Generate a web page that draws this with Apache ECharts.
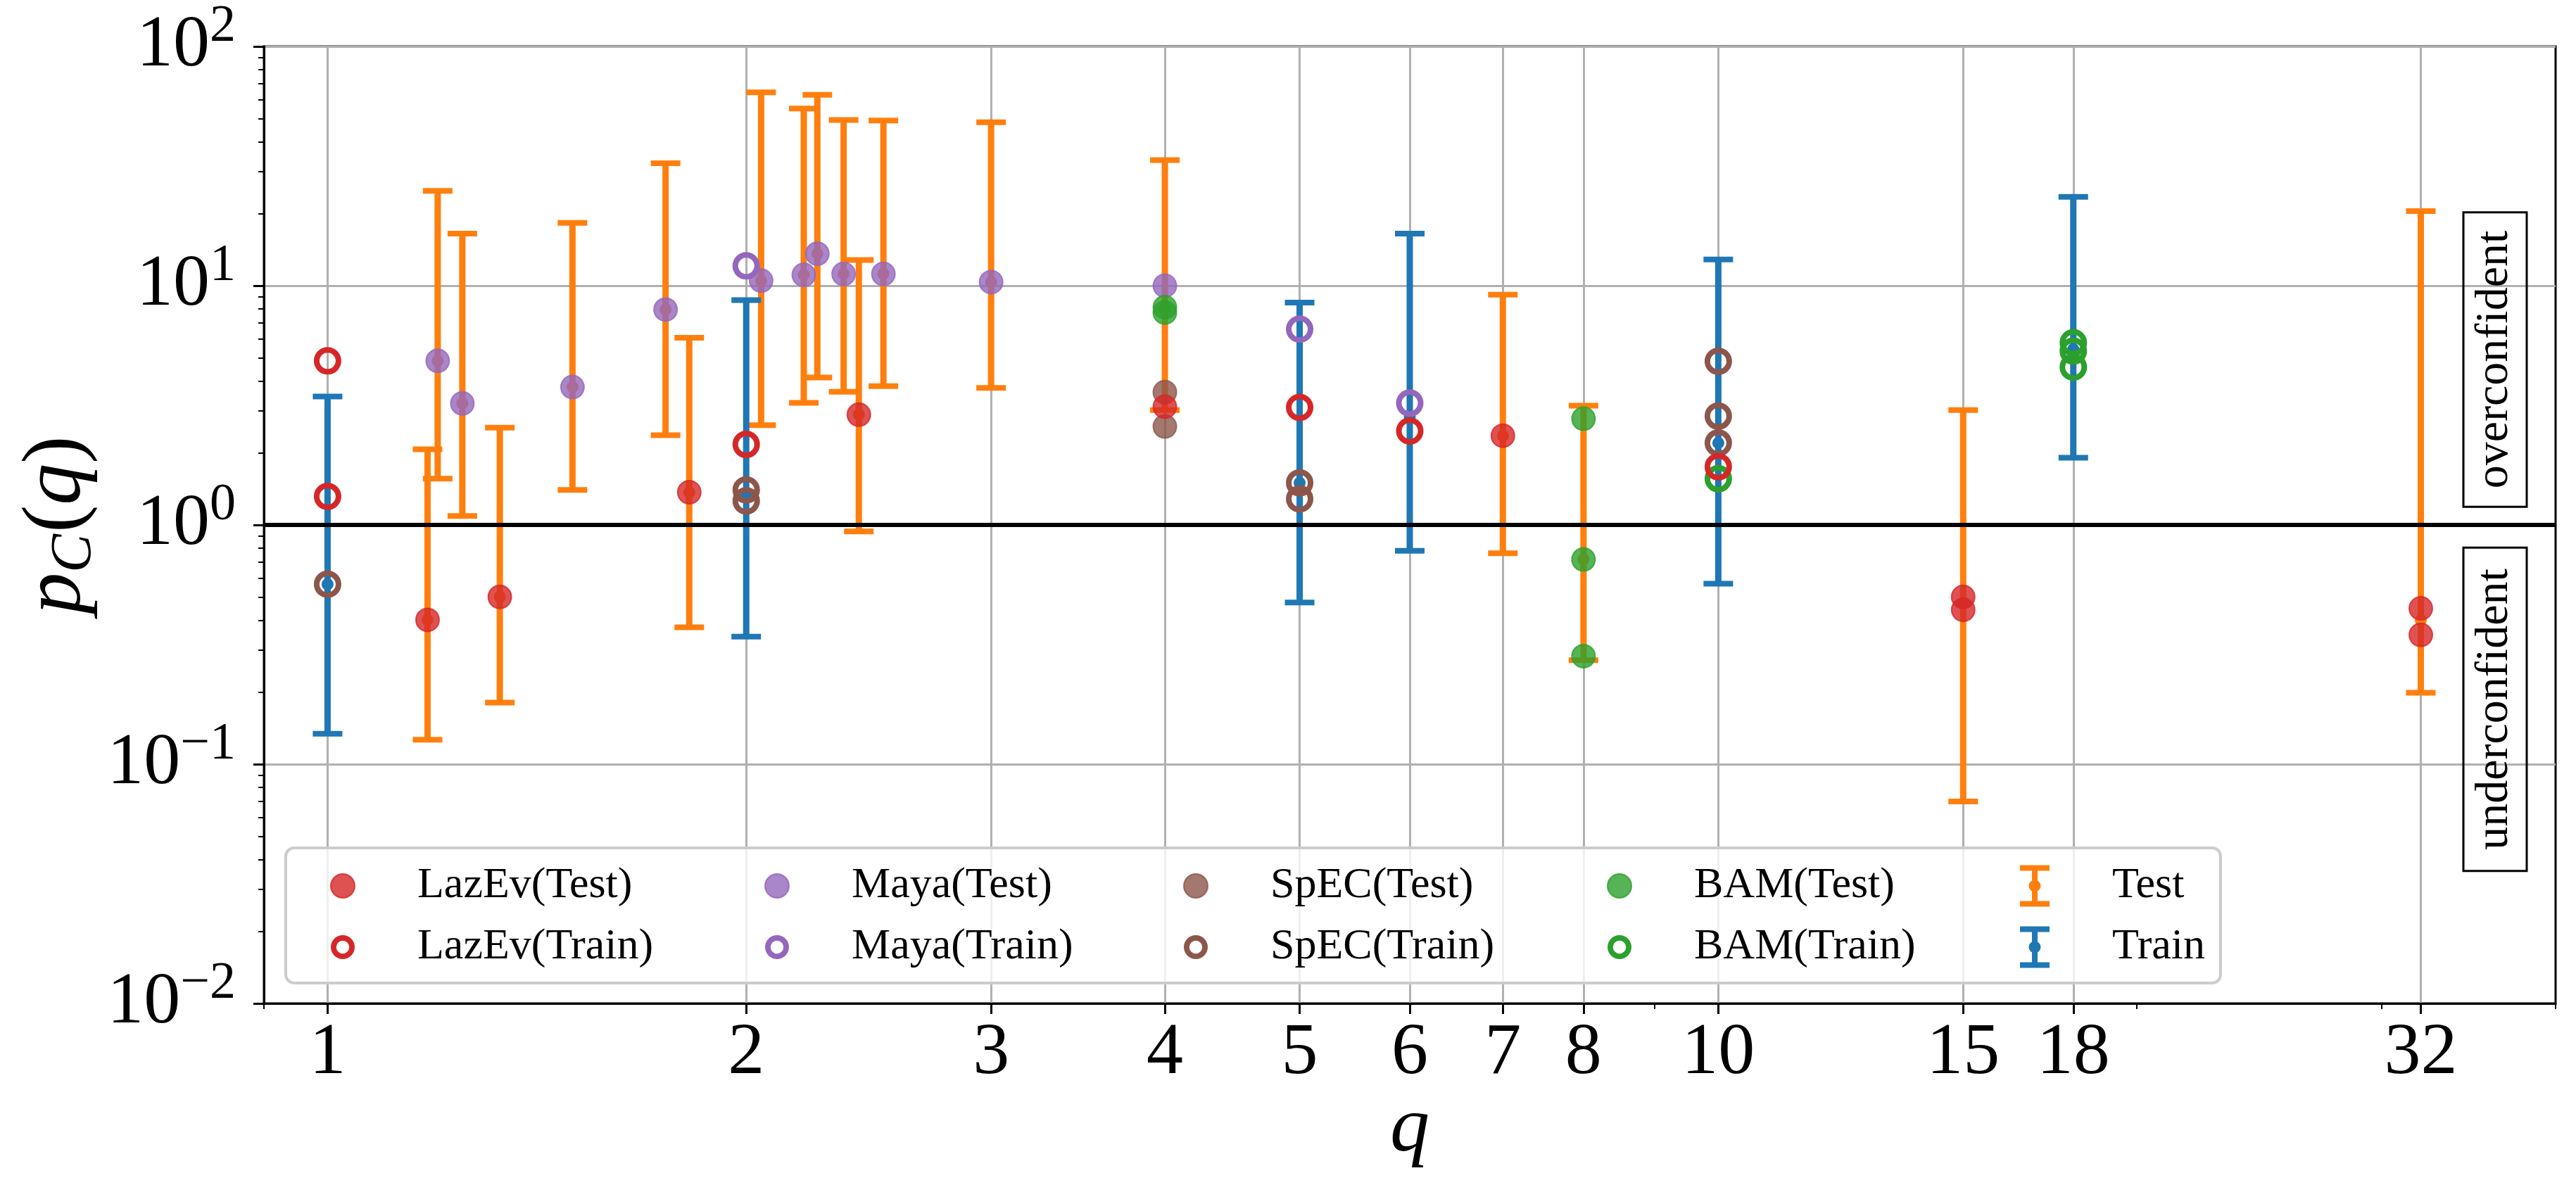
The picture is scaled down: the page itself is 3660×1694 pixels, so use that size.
<!DOCTYPE html>
<html>
<head>
<meta charset="UTF-8">
<title>p_C(q)</title>
<script src="https://cdn.jsdelivr.net/npm/echarts@6/dist/echarts.min.js"></script>
<style>html,body{margin:0;padding:0;background:#fff;}</style>
</head>
<body>
<div id="main" style="width:3660px;height:1694px"></div>
<script>
// axis ticks
var xTicks = [1, 2, 3, 4, 5, 6, 7, 8, 10, 15, 18, 32];
var xMinorTicks = [0.9, 9, 20, 30, 40];
var yTicks = [0.01, 0.1, 1, 10, 100];
var yMinorTicks = [0.02, 0.03, 0.04, 0.05, 0.06, 0.07, 0.08, 0.09,
                   0.2, 0.3, 0.4, 0.5, 0.6, 0.7, 0.8, 0.9,
                   2, 3, 4, 5, 6, 7, 8, 9,
                   20, 30, 40, 50, 60, 70, 80, 90];

// points [q, p_C(q)]
var lazevTest  = [[1.18, 0.401], [1.33, 0.50], [1.82, 1.37], [2.41, 2.89], [4, 3.12], [7, 2.36],
                  [15, 0.50], [15, 0.442], [32, 0.448], [32, 0.347]];
var lazevTrain = [[1, 4.85], [1, 1.315], [2, 2.17], [5, 3.10], [6, 2.47], [10, 1.75]];
var mayaTest   = [[1.20, 4.85], [1.25, 3.22], [1.50, 3.77], [1.75, 7.95], [2.05, 10.5], [2.20, 11.1],
                  [2.25, 13.6], [2.35, 11.2], [2.51, 11.2], [3, 10.35], [4, 10.0]];
var mayaTrain  = [[2, 12.1], [5, 6.58], [6, 3.23]];
var specTest   = [[4, 3.59], [4, 2.58]];
var specTrain  = [[1, 0.565], [2, 1.40], [2, 1.26], [5, 1.50], [5, 1.285], [10, 4.83], [10, 2.85], [10, 2.20]];
var bamTest    = [[4, 8.13], [4, 7.72], [8, 2.78], [8, 0.717], [8, 0.283]];
var bamTrain   = [[10, 1.56], [18, 5.78], [18, 5.33], [18, 4.57]];

// error bars [q, centre, low, high]
var testBars = [
  [1.18, 0.401, 0.1265, 2.07], [1.20, 4.85, 1.56, 24.9], [1.25, 3.22, 1.09, 16.5],
  [1.33, 0.50, 0.181, 2.55], [1.50, 3.77, 1.40, 18.3], [1.75, 7.95, 2.37, 32.5],
  [1.82, 1.37, 0.373, 6.06], [2.05, 10.5, 2.61, 64.3], [2.20, 11.1, 3.24, 55],
  [2.25, 13.6, 4.13, 62.8], [2.35, 11.2, 3.6, 49.3], [2.41, 2.89, 0.94, 12.8],
  [2.51, 11.2, 3.8, 49], [3, 10.35, 3.74, 48.2], [4, 8.0, 3.02, 33.5],
  [7, 2.36, 0.762, 9.17], [8, 0.717, 0.272, 3.15], [15, 0.47, 0.0698, 3.02],
  [32, 0.40, 0.199, 20.5]
];
var trainBars = [
  [1, 0.565, 0.134, 3.44], [2, 1.33, 0.341, 8.7], [5, 1.50, 0.474, 8.5],
  [6, 2.83, 0.78, 16.5], [10, 2.20, 0.568, 12.87], [18, 5.43, 1.91, 23.5]
];

var SERIF = "'Liberation Serif', 'DejaVu Serif', serif";
var RED = '#d62728', PURPLE = '#9467bd', BROWN = '#8c564b', GREEN = '#2ca02c';
var ORANGE = '#ff7f0e', BLUE = '#1f77b4';
var RING = 'path://M0,17.5 A17.5,17.5 0 1,1 35,17.5 A17.5,17.5 0 1,1 0,17.5 Z ' +
           'M8,17.5 A9.5,9.5 0 1,0 27,17.5 A9.5,9.5 0 1,0 8,17.5 Z';
var EBAR = 'path://M0,0 H42 V8 H0 Z M17,8 H25 V51 H17 Z M0,51 H42 V59 H0 Z ' +
           'M12.5,29.5 A8.5,8.5 0 1,1 29.5,29.5 A8.5,8.5 0 1,1 12.5,29.5 Z';

function filled(name, data, color) {
  return {type: 'scatter', name: name, data: data, symbol: 'circle', symbolSize: 33, z: 3,
    itemStyle: {color: color, opacity: 0.8, borderColor: color, borderWidth: 2},
    emphasis: {disabled: true}};
}
function hollow(name, data, color) {
  return {type: 'scatter', name: name, data: data, symbol: 'circle', symbolSize: 31, z: 3,
    itemStyle: {color: 'rgba(0,0,0,0)', borderColor: color, borderWidth: 8, opacity: 1},
    emphasis: {disabled: true}};
}
function errorBars(name, data, color) {
  return {type: 'custom', name: name, data: data, z: 2,
    encode: {x: 0, y: [1, 2, 3]},
    itemStyle: {color: color},
    renderItem: function (params, api) {
      var q = api.value(0);
      var pc = api.coord([q, api.value(1)]);
      var lo = api.coord([q, api.value(2)]);
      var hi = api.coord([q, api.value(3)]);
      var hw = 21;
      return {type: 'group', children: [
        {type: 'line', shape: {x1: lo[0], y1: lo[1], x2: hi[0], y2: hi[1]}, style: {stroke: color, lineWidth: 9}},
        {type: 'line', shape: {x1: lo[0] - hw, y1: lo[1], x2: lo[0] + hw, y2: lo[1]}, style: {stroke: color, lineWidth: 8}},
        {type: 'line', shape: {x1: hi[0] - hw, y1: hi[1], x2: hi[0] + hw, y2: hi[1]}, style: {stroke: color, lineWidth: 8}},
        {type: 'circle', shape: {cx: pc[0], cy: pc[1], r: 8.5}, style: {fill: color}}
      ]};
    }};
}

var legendText = {fontFamily: SERIF, fontSize: 62, color: '#000', lineHeight: 60, padding: [0, 0, 0, 84]};
function legendCol(left, items, w, h) {
  return {orient: 'vertical', left: left, top: 1228, padding: 0, itemGap: 25,
    itemWidth: w || 34, itemHeight: h || 34, selectedMode: false, z: 20,
    textStyle: legendText, data: items};
}
function dot(name, color) {
  return {name: name, icon: 'circle', itemStyle: {color: color, opacity: 0.8, borderColor: color, borderWidth: 2}};
}
function ring(name, color) {
  return {name: name, icon: RING, itemStyle: {color: color, opacity: 1, borderWidth: 0}};
}

var chart = echarts.init(document.getElementById('main'), null, {renderer: 'canvas'});
var option = {
  animation: false,
  backgroundColor: '#fff',
  grid: {left: 375, right: 29, top: 66, bottom: 268, show: true, borderColor: '#000', borderWidth: 3,
         backgroundColor: 'rgba(0,0,0,0)', containLabel: false, outerBoundsMode: 'none'},
  xAxis: [{
    type: 'log', logBase: 10, min: 0.9, max: 40, position: 'bottom',
    axisLine: {show: true, lineStyle: {color: '#000', width: 3}},
    axisTick: {show: true, customValues: xTicks, length: 15, lineStyle: {color: '#000', width: 3}},
    minorTick: {show: false},
    axisLabel: {show: true, customValues: xTicks, interval: 0, margin: 20, color: '#000',
      fontFamily: SERIF, fontSize: 104,
      formatter: function (v) { return String(Math.round(v)); }},
    splitLine: {show: true, lineStyle: {color: '#b0b0b0', width: 3}},
    name: 'q', nameLocation: 'middle', nameGap: 124, nameMoveOverlap: false,
    nameTextStyle: {fontFamily: SERIF, fontStyle: 'italic', fontSize: 112, color: '#000'}
  }, {
    type: 'log', logBase: 10, min: 0.9, max: 40, position: 'bottom',
    axisLine: {show: false},
    axisTick: {show: true, customValues: xMinorTicks, length: 8, lineStyle: {color: '#000', width: 2}},
    axisLabel: {show: false}, splitLine: {show: false}
  }],
  yAxis: [{
    type: 'log', logBase: 10, min: 0.01, max: 100, position: 'left',
    axisLine: {show: true, lineStyle: {color: '#000', width: 3}},
    axisTick: {show: true, customValues: yTicks, length: 15, lineStyle: {color: '#000', width: 3}},
    minorTick: {show: false},
    axisLabel: {show: true, customValues: yTicks, margin: 40, color: '#000',
      formatter: function (v) {
        var e = Math.round(Math.log10(v));
        return '{b|10}{s|' + (e < 0 ? '\u2212' + (-e) : e) + '}';
      },
      rich: {
        b: {fontFamily: SERIF, fontSize: 104, lineHeight: 128, color: '#000'},
        s: {fontFamily: SERIF, fontSize: 74, lineHeight: 70, verticalAlign: 'top', color: '#000'}
      }},
    splitLine: {show: true, lineStyle: {color: '#b0b0b0', width: 3}},
    name: '{i|p}{sub|C}{n|(}{i|q}{n|)}', nameLocation: 'middle', nameRotate: 90, nameGap: 228,
    nameMoveOverlap: false,
    nameTextStyle: {rich: {
      i: {fontFamily: SERIF, fontStyle: 'italic', fontSize: 118, lineHeight: 130, color: '#000'},
      n: {fontFamily: SERIF, fontSize: 118, lineHeight: 130, color: '#000'},
      sub: {fontFamily: SERIF, fontStyle: 'italic', fontSize: 82, lineHeight: 80, padding: [40, 2, 0, 0],
            verticalAlign: 'bottom', color: '#000'}
    }}
  }, {
    type: 'log', logBase: 10, min: 0.01, max: 100, position: 'left',
    axisLine: {show: false},
    axisTick: {show: true, customValues: yMinorTicks, length: 8, lineStyle: {color: '#000', width: 2}},
    axisLabel: {show: false}, splitLine: {show: false}
  }],
  legend: [
    legendCol(469, [dot('LazEv(Test)', RED), ring('LazEv(Train)', RED)]),
    legendCol(1086, [dot('Maya(Test)', PURPLE), ring('Maya(Train)', PURPLE)]),
    legendCol(1681, [dot('SpEC(Test)', BROWN), ring('SpEC(Train)', BROWN)]),
    legendCol(2283, [dot('BAM(Test)', GREEN), ring('BAM(Train)', GREEN)]),
    legendCol(2870, [{name: 'Test', icon: EBAR, itemStyle: {color: ORANGE}},
                     {name: 'Train', icon: EBAR, itemStyle: {color: BLUE}}], 42, 59)
  ],
  graphic: {elements: [
    {type: 'rect', z: 10, shape: {x: 406, y: 1205, width: 2749, height: 192, r: 12},
     style: {fill: 'rgba(255,255,255,0.8)', stroke: '#cccccc', lineWidth: 4}},
    {type: 'text', z: 10, x: 3545, y: 511, rotation: Math.PI / 2,
     style: {text: 'overconfident', fontFamily: SERIF, fontSize: 66, lineHeight: 66, fill: '#000',
             align: 'center', verticalAlign: 'middle', padding: [12, 26], borderColor: '#000', borderWidth: 3}},
    {type: 'text', z: 10, x: 3545, y: 1008, rotation: Math.PI / 2,
     style: {text: 'underconfident', fontFamily: SERIF, fontSize: 66, lineHeight: 66, fill: '#000',
             align: 'center', verticalAlign: 'middle', padding: [12, 30], borderColor: '#000', borderWidth: 3}}
  ]},
  series: [
    errorBars('Test', testBars, ORANGE),
    errorBars('Train', trainBars, BLUE),
    {type: 'line', name: 'unity', data: [], z: 2.5, silent: true,
     markLine: {silent: true, symbol: 'none', label: {show: false},
                lineStyle: {color: '#000', width: 6, type: 'solid'}, data: [{yAxis: 1}]}},
    filled('Maya(Test)', mayaTest, PURPLE),
    filled('SpEC(Test)', specTest, BROWN),
    filled('BAM(Test)', bamTest, GREEN),
    filled('LazEv(Test)', lazevTest, RED),
    hollow('Maya(Train)', mayaTrain, PURPLE),
    hollow('SpEC(Train)', specTrain, BROWN),
    hollow('BAM(Train)', bamTrain, GREEN),
    hollow('LazEv(Train)', lazevTrain, RED)
  ]
};
chart.setOption(option);
</script>
</body>
</html>
